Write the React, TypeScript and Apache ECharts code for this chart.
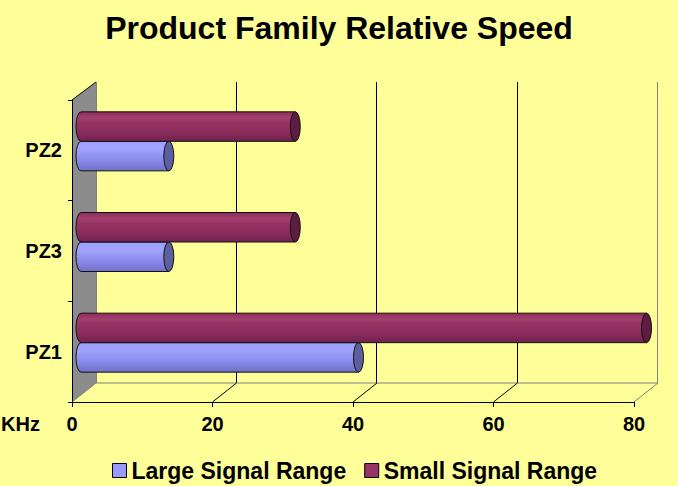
import React, { useEffect, useRef } from "react";
import * as echarts from "echarts";

const categories = ["PZ1", "PZ3", "PZ2"];
const largeSignal = [39.5, 12.5, 12.5];
const smallSignal = [80.5, 30.5, 30.5];
const xTicks = [0, 20, 40, 60, 80];
const seriesNames = ["Large Signal Range", "Small Signal Range"];

const FONT = "'Liberation Sans', Arial, sans-serif";
const BG = "#FFFF99";
const DX = 24;
const DY_TOP = -18;
const DY_BOT = -19;
const BAR_W = 29.5;

const purpleGrad = () =>
  new echarts.graphic.LinearGradient(0, 0, 0, 1, [
    { offset: 0, color: "#8a2c5a" },
    { offset: 0.2, color: "#a3406e" },
    { offset: 0.35, color: "#973465" },
    { offset: 0.6, color: "#902e5e" },
    { offset: 1, color: "#702250" },
  ]);
const blueGrad = () =>
  new echarts.graphic.LinearGradient(0, 0, 0, 1, [
    { offset: 0, color: "#9c9cff" },
    { offset: 0.25, color: "#a3a3ff" },
    { offset: 0.6, color: "#8d8def" },
    { offset: 1, color: "#7071c6" },
  ]);

function cylinder(pos: "top" | "bottom", grad: () => any, capColor: string) {
  return (params: any, api: any) => {
    const v = api.value(0);
    const cat = api.value(1);
    const p0 = api.coord([0, cat]);
    const p1 = api.coord([v, cat]);
    const top = pos === "top" ? p0[1] - BAR_W : p0[1];
    const bottom = top + BAR_W;
    const rx = 5;
    const ry = BAR_W / 2;
    const x0 = p0[0];
    const x1 = p1[0];
    const body = `M ${x1} ${top} L ${x0} ${top} A ${rx} ${ry} 0 0 0 ${x0} ${bottom} L ${x1} ${bottom} Z`;
    const cap = `M ${x1} ${top} A ${rx} ${ry} 0 0 1 ${x1} ${bottom} A ${rx} ${ry} 0 0 1 ${x1} ${top} Z`;
    return {
      type: "group",
      children: [
        {
          type: "path",
          shape: { pathData: body },
          style: { fill: grad(), stroke: "#111", lineWidth: 1 },
        },
        {
          type: "path",
          shape: { pathData: cap },
          style: { fill: capColor, stroke: "#111", lineWidth: 1 },
        },
      ],
    };
  };
}

function frame(params: any, api: any) {
  const cs = params.coordSys;
  const x0 = cs.x;
  const y0 = cs.y;
  const yb = cs.y + cs.height;
  const xr = cs.x + cs.width;
  const children: any[] = [
    {
      type: "polygon",
      shape: {
        points: [
          [x0, y0],
          [x0 + DX, y0 + DY_TOP],
          [x0 + DX, yb + DY_BOT],
          [x0, yb],
        ],
      },
      style: { fill: "#8c8c8c" },
    },
    {
      type: "line",
      shape: { x1: x0, y1: y0, x2: x0 + DX, y2: y0 + DY_TOP },
      style: { stroke: "#000", lineWidth: 1 },
    },
    {
      type: "line",
      shape: { x1: x0 + DX, y1: yb + DY_BOT, x2: xr + DX, y2: yb + DY_BOT },
      style: { stroke: "#808080", lineWidth: 1 },
    },
  ];
  xTicks.forEach((t, i) => {
    const px = api.coord([t, 0])[0];
    children.push({
      type: "line",
      shape: { x1: px, y1: yb, x2: px + DX, y2: yb + DY_BOT },
      style: {
        stroke: i === 0 || i === xTicks.length - 1 ? "#808080" : "#000",
        lineWidth: 1,
      },
    });
  });
  return { type: "group", children };
}

export default function App() {
  const ref = useRef<HTMLDivElement>(null);
  useEffect(() => {
    if (!ref.current) return;
    const chart = echarts.init(ref.current, null, { renderer: "svg" });
    chart.setOption({
      animation: false,
      backgroundColor: BG,
      title: {
        text: "Product Family Relative Speed",
        left: "center",
        top: 7,
        textStyle: { fontFamily: FONT, fontWeight: "bold", fontSize: 32, color: "#000" },
      },
      legend: {
        left: 107,
        top: 454,
        itemWidth: 14,
        itemHeight: 14,
        itemGap: 18,
        textStyle: { fontFamily: FONT, fontWeight: "bold", fontSize: 23, color: "#000" },
        data: [
          { name: seriesNames[0], icon: "rect", itemStyle: { color: "#9999FF", borderColor: "#000", borderWidth: 1 } },
          { name: seriesNames[1], icon: "rect", itemStyle: { color: "#993366", borderColor: "#000", borderWidth: 1 } },
        ],
      },
      graphic: [
        {
          type: "text",
          left: 1,
          top: 414,
          style: { text: "KHz", font: `bold 20px ${FONT}`, fill: "#000" },
        },
      ],
      grid: [
        { left: 96, top: 82, width: 561, height: 301 },
        { left: 72, top: 100, width: 562, height: 302 },
        { left: 81, top: 91, width: 562, height: 302 },
      ],
      xAxis: [
        {
          gridIndex: 0,
          type: "value",
          min: 0,
          max: 80,
          interval: 20,
          axisLine: { show: false },
          axisTick: { show: false },
          axisLabel: { show: false },
          splitLine: {
            show: true,
            showMinLine: true,
            showMaxLine: true,
            lineStyle: { color: ["#808080", "#000", "#000", "#000", "#808080"], width: 1 },
          },
        },
        {
          gridIndex: 1,
          type: "value",
          min: 0,
          max: 80,
          interval: 20,
          z: 5,
          axisLine: { show: true, lineStyle: { color: "#000", width: 1 } },
          axisTick: { show: true, length: 5, lineStyle: { color: "#000" } },
          axisLabel: {
            margin: 12,
            fontFamily: FONT,
            fontWeight: "bold",
            fontSize: 20,
            color: "#000",
          },
          splitLine: { show: false },
        },
        {
          gridIndex: 2,
          type: "value",
          min: 0,
          max: 80,
          interval: 20,
          show: false,
          splitLine: { show: false },
        },
      ],
      yAxis: [
        { gridIndex: 0, type: "category", data: categories, show: false },
        {
          gridIndex: 1,
          type: "category",
          data: categories,
          z: 5,
          axisLine: { show: true, lineStyle: { color: "#000", width: 1 } },
          axisTick: { show: true, length: 4, lineStyle: { color: "#000" } },
          axisLabel: {
            margin: 10,
            fontFamily: FONT,
            fontWeight: "bold",
            fontSize: 20,
            color: "#000",
          },
          splitLine: { show: false },
        },
        { gridIndex: 2, type: "category", data: categories, show: false },
      ],
      series: [
        {
          type: "custom",
          name: "frame",
          xAxisIndex: 1,
          yAxisIndex: 1,
          z: 1,
          silent: true,
          renderItem: frame,
          data: [[0, 0]],
        },
        {
          type: "custom",
          name: seriesNames[0],
          xAxisIndex: 2,
          yAxisIndex: 2,
          z: 3,
          itemStyle: { color: "#9999FF" },
          renderItem: cylinder("bottom", blueGrad, "#5b5f9e"),
          data: largeSignal.map((v, i) => [v, i]),
        },
        {
          type: "custom",
          name: seriesNames[1],
          xAxisIndex: 2,
          yAxisIndex: 2,
          z: 3,
          itemStyle: { color: "#993366" },
          renderItem: cylinder("top", purpleGrad, "#5e1d40"),
          data: smallSignal.map((v, i) => [v, i]),
        },
      ],
    });
    return () => chart.dispose();
  }, []);
  return (
    <div
      ref={ref}
      style={{ position: "fixed", left: 0, top: 0, width: 678, height: 486 }}
    />
  );
}
